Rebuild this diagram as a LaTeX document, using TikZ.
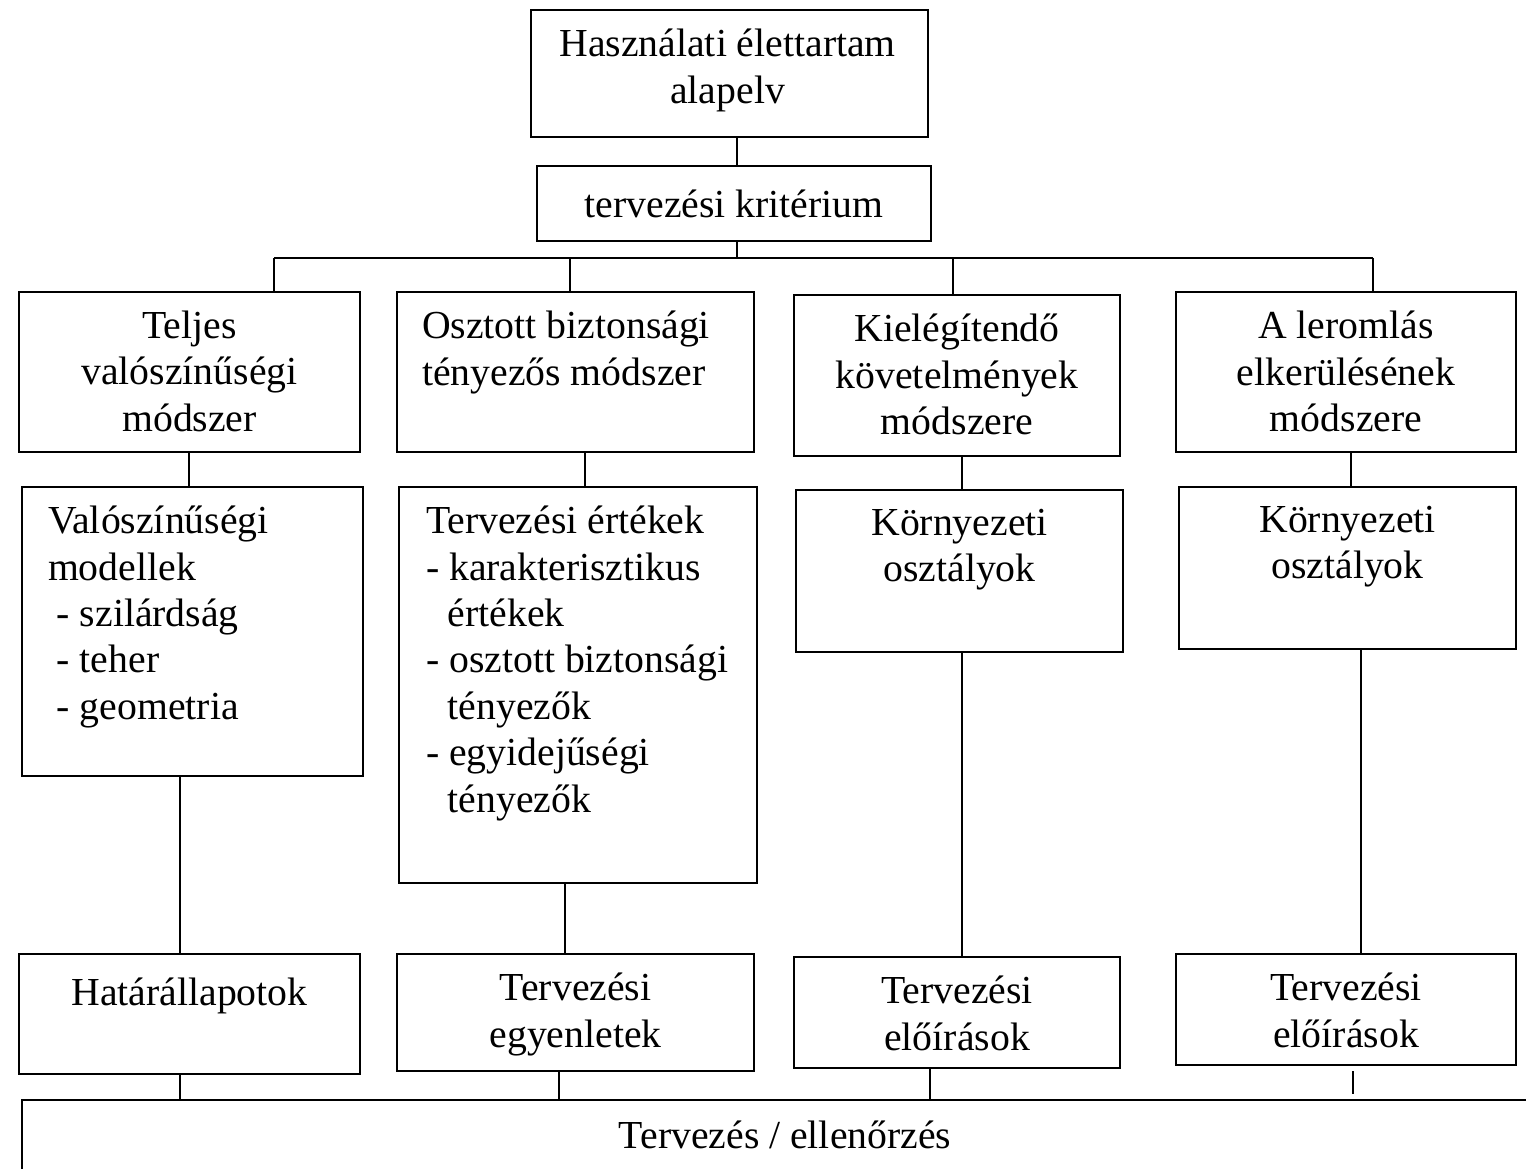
\documentclass[tikz,border=0pt]{standalone}
\usepackage{fontspec}
\setmainfont{Liberation Serif}
\usetikzlibrary{positioning, calc}
\tikzset{
    box/.style={shape=rectangle, draw, anchor=north west, inner sep=0pt},
    txt/.style={align=center, inner sep=0pt, execute at begin node=\strut},
    ltxt/.style={align=left, inner sep=0pt, execute at begin node=\strut},
    link/.style={draw}
}

\begin{document}
\begin{tikzpicture}[x=0.1mm, y=-0.1mm, line width=0.6pt,
    font=\fontsize{11.3pt}{13.2pt}\selectfont]
    % define distances
    \def\pad{1.9mm}
    \def\gap{\hspace*{6.2pt}}
    \def\dent{\hspace*{2.5pt}}

    \useasboundingbox (0,0) rectangle (1526,1169);

    % boxes
    \node [box, minimum width=39.7mm, minimum height=12.7mm] at (530,9)    (top)  {};
    \node [box, minimum width=39.4mm, minimum height=7.5mm]  at (536,165)  (krit) {};

    \node [box, minimum width=34.1mm, minimum height=16mm]   at (18,291)   (m1) {};
    \node [box, minimum width=35.7mm, minimum height=16mm]   at (396,291)  (m2) {};
    \node [box, minimum width=32.6mm, minimum height=16.1mm] at (793,294)  (m3) {};
    \node [box, minimum width=34mm,   minimum height=16mm]   at (1175,291) (m4) {};

    \node [box, minimum width=34.1mm, minimum height=28.9mm] at (21,486)   (v1) {};
    \node [box, minimum width=35.8mm, minimum height=39.6mm] at (398,486)  (v2) {};
    \node [box, minimum width=32.7mm, minimum height=16.2mm] at (795,489)  (v3) {};
    \node [box, minimum width=33.7mm, minimum height=16.2mm] at (1178,486) (v4) {};

    \node [box, minimum width=34.1mm, minimum height=12mm]   at (18,953)   (l1) {};
    \node [box, minimum width=35.7mm, minimum height=11.7mm] at (396,953)  (l2) {};
    \node [box, minimum width=32.6mm, minimum height=11.1mm] at (793,956)  (l3) {};
    \node [box, minimum width=34mm,   minimum height=11.1mm] at (1175,953) (l4) {};

    \node [box, minimum width=152.8mm, minimum height=7.4mm] at (21,1099)  (bot) {};

    % texts
    \node [txt, below=\pad of top.north, xshift=-0.2mm] (t-top) {Használati élettartam\\alapelv};
    \node [txt, below=\pad of krit.north] (t-krit) {tervezési kritérium};

    \node [txt, below=\pad of m1.north] (t-m1) {Teljes\\valószínűségi\\módszer};
    \node [ltxt, below right=\pad and 2.5mm of m2.north west] (t-m2) {Osztott biztonsági\\tényezős módszer};
    \node [txt, below=\pad of m3.north] (t-m3) {Kielégítendő\\követelmények\\módszere};
    \node [txt, below=\pad of m4.north] (t-m4) {A leromlás\\elkerülésének\\módszere};

    \node [ltxt, below right=\pad and 2.6mm of v1.north west] (t-v1)
        {Valószínűségi\\modellek\\\dent- szilárdság\\\dent- teher\\\dent- geometria};
    \node [ltxt, below right=\pad and 2.7mm of v2.north west] (t-v2)
        {Tervezési értékek\\- karakterisztikus\\\gap értékek\\- osztott biztonsági\\\gap tényezők\\- egyidejűségi\\\gap tényezők};
    \node [txt, below=\pad of v3.north] (t-v3) {Környezeti\\osztályok};
    \node [txt, below=\pad of v4.north] (t-v4) {Környezeti\\osztályok};

    \node [txt, below=\pad of l1.north] (t-l1) {Határállapotok};
    \node [txt, below=\pad of l2.north] (t-l2) {Tervezési\\egyenletek};
    \node [txt, below=\pad of l3.north] (t-l3) {Tervezési\\előírások};
    \node [txt, below=\pad of l4.north] (t-l4) {Tervezési\\előírások};

    \node [txt, below=1.6mm of bot.north, xshift=-0.1mm] (t-bot) {Tervezés / ellenőrzés};

    % connector columns
    \coordinate (k)  at (737,0);
    \coordinate (d1) at (274,258);
    \coordinate (d2) at (570,258);
    \coordinate (d3) at (953,258);
    \coordinate (d4) at (1373,258);
    \coordinate (a1) at (189,0);
    \coordinate (a2) at (585,0);
    \coordinate (a3) at (962,0);
    \coordinate (a4) at (1351,0);
    \coordinate (b1) at (180,0);
    \coordinate (b2) at (565,0);
    \coordinate (b3) at (962,0);
    \coordinate (b4) at (1361,0);
    \coordinate (c1) at (180,0);
    \coordinate (c2) at (559,0);
    \coordinate (c3) at (930,0);
    \coordinate (c4) at (1353,0);

    % draw connectors
    \begin{scope}[link]
        \draw (top.south -| k) -- (krit.north -| k);
        \draw (krit.south -| k) -- (d1 -| k);
        \draw (d1) -- (d4);
        \draw (d1) -- (d1 |- m1.north);
        \draw (d2) -- (d2 |- m2.north);
        \draw (d3) -- (d3 |- m3.north);
        \draw (d4) -- (d4 |- m4.north);

        \draw (m1.south -| a1) -- (v1.north -| a1);
        \draw (m2.south -| a2) -- (v2.north -| a2);
        \draw (m3.south -| a3) -- (v3.north -| a3);
        \draw (m4.south -| a4) -- (v4.north -| a4);

        \draw (v1.south -| b1) -- (l1.north -| b1);
        \draw (v2.south -| b2) -- (l2.north -| b2);
        \draw (v3.south -| b3) -- (l3.north -| b3);
        \draw (v4.south -| b4) -- (l4.north -| b4);

        \draw (l1.south -| c1) -- (bot.north -| c1);
        \draw (l2.south -| c2) -- (bot.north -| c2);
        \draw (l3.south -| c3) -- (bot.north -| c3);
        \draw [shorten <=0.5mm, shorten >=0.5mm] (l4.south -| c4) -- (bot.north -| c4);
    \end{scope}
\end{tikzpicture}
\end{document}
